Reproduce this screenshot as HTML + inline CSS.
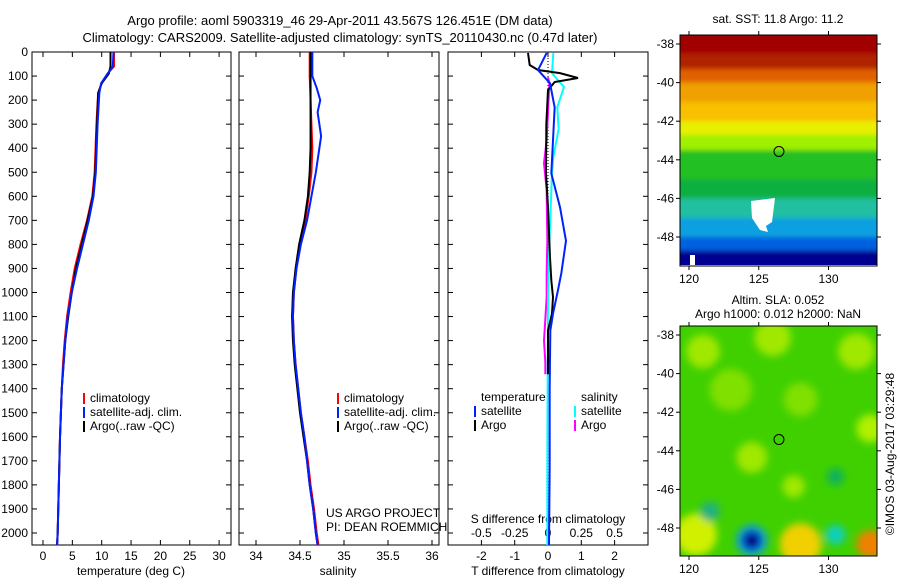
<!DOCTYPE html>
<html><head><meta charset="utf-8"><style>
body{margin:0;background:#fff;width:900px;height:580px;overflow:hidden}
svg{font-family:"Liberation Sans",sans-serif}
</style></head><body>
<svg id="c" width="900" height="580" xmlns="http://www.w3.org/2000/svg"></svg>
<script>
// ---- data ----
const depthTicks=[0,100,200,300,400,500,600,700,800,900,1000,1100,1200,1300,1400,1500,1600,1700,1800,1900,2000];
const tTicks=[0,5,10,15,20,25,30];
const sTicks=[34,34.5,35,35.5,36];
const sTickLabels=["34","34.5","35","35.5","36"];
const dTTicks=[-2,-1,0,1,2];
const dSTicks=[-0.5,-0.25,0,0.25,0.5];
const dSTickLabels=["-0.5","-0.25","0","0.25","0.5"];
const latTicks=[-38,-40,-42,-44,-46,-48];
const lonTicks=[120,125,130];
// temperature profiles [depth,value]
const tClim=[[0,12.1],[60,12.1],[90,11],[130,10],[170,9.4],[300,9.1],[500,8.8],[600,8.4],[700,7.5],[800,6.4],[900,5.4],[1000,4.7],[1100,4.1],[1200,3.7],[1300,3.4],[1400,3.2],[1600,2.9],[1800,2.7],[2000,2.5],[2050,2.4]];
const tSat=[[0,12],[60,11.9],[90,11],[130,9.9],[170,9.6],[300,9.3],[500,9],[600,8.6],[700,7.8],[800,6.8],[900,5.8],[1000,4.9],[1100,4.2],[1200,3.8],[1300,3.5],[1400,3.2],[1600,2.9],[1800,2.7],[2000,2.5],[2050,2.4]];
const tArgo=[[0,11.5],[60,11.5],[90,11.2],[130,10],[170,9.4],[300,9.2],[500,8.9],[600,8.5],[700,7.6],[800,6.6],[900,5.6],[1000,4.9],[1100,4.3],[1200,3.8],[1300,3.5],[1400,3.2],[1600,2.9],[1800,2.7],[2000,2.5],[2050,2.4]];
// salinity profiles
const sClim=[[0,34.61],[100,34.61],[200,34.62],[400,34.64],[500,34.63],[600,34.6],[700,34.56],[800,34.5],[900,34.46],[1000,34.43],[1100,34.42],[1200,34.43],[1300,34.45],[1400,34.48],[1500,34.51],[1600,34.55],[1700,34.59],[1800,34.62],[1900,34.66],[2000,34.69],[2050,34.71]];
const sSat=[[0,34.64],[100,34.64],[150,34.69],[200,34.73],[250,34.7],[300,34.72],[350,34.74],[400,34.72],[500,34.68],[600,34.63],[700,34.58],[800,34.51],[900,34.46],[1000,34.43],[1100,34.42],[1200,34.43],[1300,34.45],[1400,34.48],[1500,34.51],[1600,34.55],[1700,34.58],[1800,34.61],[1900,34.65],[2000,34.68],[2050,34.7]];
const sArgo=[[0,34.62],[100,34.62],[200,34.62],[400,34.62],[500,34.61],[600,34.59],[700,34.55],[800,34.49],[900,34.45],[1000,34.42],[1100,34.41],[1200,34.42],[1300,34.44],[1400,34.47],[1500,34.5],[1600,34.54],[1700,34.58],[1800,34.61],[1900,34.65],[2000,34.68],[2050,34.7]];
// differences
const dTSat=[[4,-0.04],[75,-0.3],[130,0.06],[230,0.2],[505,0.1],[645,0.36],[785,0.54],[920,0.4],[990,0.3],[1088,0.15],[1158,0.07],[1400,0.05],[1730,0.05],[2050,0.03]];
const dTArgo=[[4,-0.6],[54,-0.55],[75,-0.3],[88,0.36],[108,0.9],[125,0.2],[158,0],[300,-0.05],[505,-0.06],[645,0],[855,0.06],[950,0.1],[1020,0.15],[1088,0.12],[1158,0],[1340,0]];
const dSSat=[[4,0.04],[88,0.03],[127,0.09],[145,0.12],[230,0.07],[320,0.08],[437,0.04],[505,0.03],[800,0.01],[1000,0],[1700,-0.005],[2050,-0.005]];
const dSArgo=[[105,0],[130,0.01],[367,-0.01],[462,-0.03],[575,-0.01],[785,-0.005],[920,-0.01],[1020,-0.01],[1200,-0.03],[1290,-0.02],[1340,-0.02]];
// map1 SST bands by latitude
const sstLat=[-37.5,-38.5,-39.3,-40,-41,-42,-42.7,-43.5,-45,-46,-47,-48,-48.7];
const sstCol=["#a00000","#b02000","#e06000","#f0a000","#f8c000","#e8f000","#a0f000","#20c020","#10b040","#20c0a0","#10a0e0","#0060e0","#000090"];
// map2 SLA blobs [lon,lat,radiusDeg,color]
const slaBlobs=[[121,-39,1.2,"#a0e800"],[126,-38.3,1.3,"#a0e800"],[132,-39,1.3,"#a0e800"],[123,-41,1.5,"#80e000"],[128,-41.5,1.2,"#80e000"],[133,-43,1,"#b0f000"],[124.5,-44.5,1.1,"#a0e800"],[127.5,-46,0.8,"#a0e800"],[120.5,-48.5,1.5,"#d0f000"],[128,-49,1.5,"#f0d000"],[133,-49,1,"#f08000"],[121.5,-47.3,0.7,"#20b080"],[130.5,-48.5,0.7,"#10d0c0"],[130.5,-45.5,0.6,"#10b060"],[124.5,-48.8,1.1,"#10a0f0"],[124.5,-48.8,0.7,"#000090"]];
// ---- helpers ----
const svg=document.getElementById('c');const NS="http://www.w3.org/2000/svg";
function el(t,a,p){const e=document.createElementNS(NS,t);for(const k in a)e.setAttribute(k,a[k]);(p||svg).appendChild(e);return e;}
function txt(x,y,s,anc,size,name){const e=el('text',{x:x,y:y,'font-size':size||12,'text-anchor':anc||'start',fill:'#000'});e.textContent=s;

return e;}
const yD=d=>52+d*0.2405;
function panel(x0,x1,name){const r=el('rect',{x:x0,y:52,width:x1-x0,height:493,fill:'none',stroke:'#000','stroke-width':1});

}
function line(data,fx,color,name,w){const p=el('polyline',{points:data.map(d=>fx(d[1])+','+yD(d[0])).join(' '),fill:'none',stroke:color,'stroke-width':w||2});

}
function xticks(vals,labels,fx,y0,name){vals.forEach((v,i)=>{const x=fx(v);el('line',{x1:x,x2:x,y1:545,y2:540,stroke:'#000'});el('line',{x1:x,x2:x,y1:52,y2:57,stroke:'#000'});txt(x,y0,labels?labels[i]:String(v),'middle',12,name);});}
// titles
txt(340,25,"Argo profile: aoml 5903319_46 29-Apr-2011 43.567S 126.451E (DM data)",'middle',13,'title-line-1');
txt(340,42,"Climatology: CARS2009. Satellite-adjusted climatology: synTS_20110430.nc (0.47d later)",'middle',13,'title-line-2');
// panel 1
const xT=v=>43+v*5.87;
panel(32,231,'temperature-panel');
depthTicks.forEach(d=>{el('line',{x1:32,x2:37,y1:yD(d),y2:yD(d),stroke:'#000'});el('line',{x1:226,x2:231,y1:yD(d),y2:yD(d),stroke:'#000'});txt(28,yD(d)+4,String(d),'end',12,'depth-tick-label');});
xticks(tTicks,null,xT,560,'temperature-tick-label');
txt(131,575,"temperature (deg C)",'middle',12,'temperature-axis-title');
line(tClim,xT,'#f00','temperature-climatology-line');
line(tArgo,xT,'#000','temperature-argo-line');
line(tSat,xT,'#0020ff','temperature-satellite-line');
function legend(x,y,items,pref){items.forEach((it,i)=>{el('rect',{x:x,y:y+i*14-9,width:2,height:11,fill:it[1]});txt(x+7,y+i*14,it[0],'start',12,pref+'-legend-entry');});}
legend(83,402,[["climatology","#f00"],["satellite-adj. clim.","#0020ff"],["Argo(..raw -QC)","#000"]],'temperature');
// panel 2
const xS=v=>256+(v-34)*88;
panel(239,439,'salinity-panel');
depthTicks.forEach(d=>{el('line',{x1:239,x2:244,y1:yD(d),y2:yD(d),stroke:'#000'});el('line',{x1:434,x2:439,y1:yD(d),y2:yD(d),stroke:'#000'});});
xticks(sTicks,sTickLabels,xS,560,'salinity-tick-label');
txt(338,575,"salinity",'middle',12,'salinity-axis-title');
line(sClim,xS,'#f00','salinity-climatology-line');
line(sArgo,xS,'#000','salinity-argo-line');
line(sSat,xS,'#0020ff','salinity-satellite-line');
legend(337,402,[["climatology","#f00"],["satellite-adj. clim.","#0020ff"],["Argo(..raw -QC)","#000"]],'salinity');
txt(326,517,"US ARGO PROJECT",'start',12,'project-label');
txt(326,531,"PI: DEAN ROEMMICH",'start',12,'pi-label');
// panel 3
const xdT=v=>548+v*33.3;const xdS=v=>548+v*133.2;
panel(448,648,'difference-panel');
depthTicks.forEach(d=>{el('line',{x1:448,x2:453,y1:yD(d),y2:yD(d),stroke:'#000'});el('line',{x1:643,x2:648,y1:yD(d),y2:yD(d),stroke:'#000'});});
xticks(dTTicks,null,xdT,560,'t-difference-tick-label');
dSTicks.forEach((v,i)=>txt(xdS(v),537,dSTickLabels[i],'middle',12,'s-difference-tick-label'));
txt(548,523,"S difference from climatology",'middle',12,'s-difference-axis-title');
txt(548,575,"T difference from climatology",'middle',12,'t-difference-axis-title');
el('line',{x1:548,x2:548,y1:52,y2:545,stroke:'#000','stroke-dasharray':'1,2'});
line(dSArgo,xdS,'#ff00ff','s-difference-argo-line');
line(dSSat,xdS,'#00ffff','s-difference-satellite-line');
line(dTArgo,xdT,'#000','t-difference-argo-line');
line(dTSat,xdT,'#0020ff','t-difference-satellite-line');
txt(481,401,"temperature",'start',12,'temperature-legend-header');
txt(581,401,"salinity",'start',12,'salinity-legend-header');
legend(474,415,[["satellite","#0020ff"],["Argo","#000"]],'t-difference');
legend(574,415,[["satellite","#00ffff"],["Argo","#ff00ff"]],'s-difference');
// maps
function mapAxes(x0,y0,x1,y1,name){const lx=v=>689+(v-120)*13.95;const ly=v=>y0+9+(-38-v)*19.3;
const r=el('rect',{x:x0,y:y0,width:x1-x0,height:y1-y0,fill:'none',stroke:'#000'});


latTicks.forEach(v=>{const y=ly(v);el('line',{x1:x0-4,x2:x0,y1:y,y2:y,stroke:'#000'});el('line',{x1:x1,x2:x1+4,y1:y,y2:y,stroke:'#000'});txt(x0-6,y+4,String(v),'end',12,'latitude-tick-label');});
lonTicks.forEach(v=>{const x=lx(v);el('line',{x1:x,x2:x,y1:y1,y2:y1+4,stroke:'#000'});el('line',{x1:x,x2:x,y1:y0-4,y2:y0,stroke:'#000'});txt(x,y1+17,String(v),'middle',12,'longitude-tick-label');});
return [lx,ly];}
// map1
let [lx,ly]=[v=>689+(v-120)*13.95,v=>44+(-38-v)*19.3];
el('defs',{}).innerHTML='<clipPath id="cp1"><rect x="680" y="35" width="197" height="230"/></clipPath><clipPath id="cp2"><rect x="680" y="326" width="197" height="230"/></clipPath><filter id="bl"><feGaussianBlur stdDeviation="4"/></filter><filter id="bl2"><feGaussianBlur stdDeviation="2.5"/></filter>';
const g1=el('g',{});


g1.setAttribute('clip-path','url(#cp1)');
const g1b=el('g',{filter:'url(#bl2)'},g1);
sstLat.forEach((v,i)=>{const y=ly(v);const h=(i<sstLat.length-1?ly(sstLat[i+1]):275)-y;el('rect',{x:670,y:i==0?25:y,width:217,height:h+(i==0?12:1),fill:sstCol[i]},g1b);});
el('path',{d:'M751 201 L775 198 L772 222 L766 226 L768 232 L760 230 L752 218 Z',fill:'#fff'},g1);
el('rect',{x:690,y:255,width:5,height:11,fill:'#fff'},g1);
el('circle',{cx:lx(126.45),cy:ly(-43.57),r:5,fill:'none',stroke:'#000'});
mapAxes(680,35,877,266,'sst-map-frame');
txt(778,23,"sat. SST: 11.8 Argo: 11.2",'middle',12,'sst-map-title');
// map2
const ly2=v=>332+(-38-v)*19.3;
const g2=el('g',{});


g2.setAttribute('clip-path','url(#cp2)');
el('rect',{x:680,y:326,width:197,height:230,fill:'#40d000'},g2);
const gb=el('g',{filter:'url(#bl)'},g2);
slaBlobs.forEach(b=>{el('circle',{cx:lx(b[0]),cy:ly2(b[1]),r:b[2]*14,fill:b[3]},gb);});
el('circle',{cx:lx(126.45),cy:ly2(-43.57),r:5,fill:'none',stroke:'#000'});
mapAxes(680,326,877,556,'sla-map-frame');
txt(778,304,"Altim. SLA: 0.052",'middle',12,'sla-map-title');
txt(778,318,"Argo h1000: 0.012 h2000: NaN",'middle',12,'sla-map-subtitle');
const rt=txt(0,0,"©IMOS 03-Aug-2017 03:29:48",'middle',12,'timestamp-label');
rt.setAttribute('transform','translate(894,454) rotate(-90)');
</script>
</body></html>
